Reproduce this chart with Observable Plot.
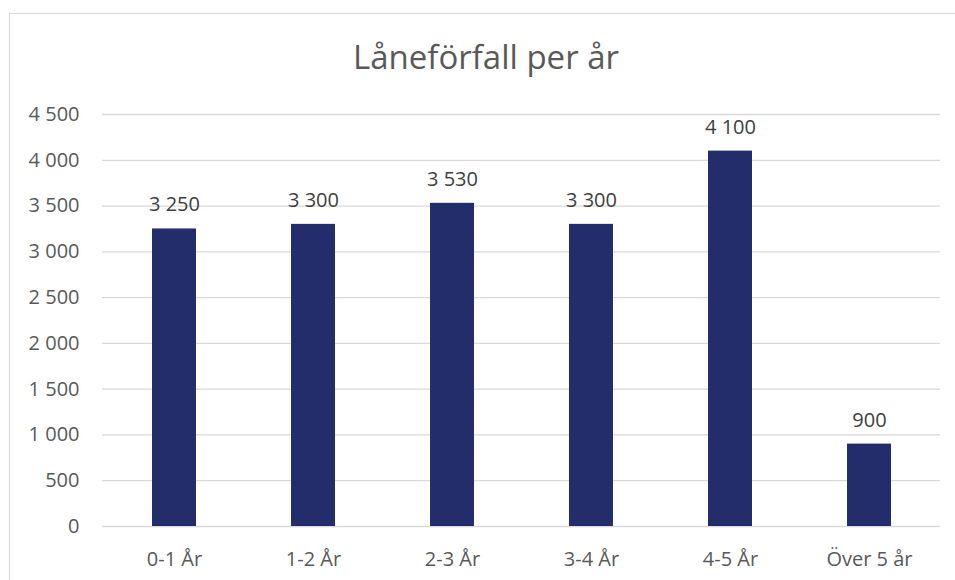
<!DOCTYPE html>
<html>
<head>
<meta charset="utf-8">
<script src="https://cdn.jsdelivr.net/npm/d3@7"></script>
<script src="https://cdn.jsdelivr.net/npm/@observablehq/plot@0.6"></script>
<style>
  html, body { margin: 0; padding: 0; background: #fff; width: 955px; height: 580px; overflow: hidden; }
  #frame { position: absolute; left: 9px; top: 13px; width: 1000px; height: 700px; border: 1.5px solid #d9d9d9; box-sizing: border-box; }
  #title { position: absolute; left: 0; width: 972px; top: 37px; text-align: center; font-family: "Open Sans", sans-serif; font-size: 33px; color: #595959; line-height: 40px; }
  #chart { position: absolute; left: 0; top: 90px; }
</style>
</head>
<body>
<div id="frame"></div>
<div id="title">Låneförfall per år</div>
<div id="chart"></div>
<script>
const categories = ["0-1 År", "1-2 År", "2-3 År", "3-4 År", "4-5 År", "Över 5 år"];
const values = [3250, 3300, 3530, 3300, 4100, 900];
const yTicks = [0, 500, 1000, 1500, 2000, 2500, 3000, 3500, 4000, 4500];

const data = categories.map((c, i) => ({category: c, value: values[i]}));
const locale = d3.formatLocale({decimal: ",", thousands: "\u00a0", grouping: [3], currency: ["", ""]});
const fmt = locale.format(",d");

const plot = Plot.plot({
  width: 955,
  height: 490,
  marginLeft: 102,
  marginRight: 15,
  marginTop: 24,
  marginBottom: 54,
  style: {fontFamily: "'Open Sans', sans-serif", fontSize: "20px", color: "#595959", background: "transparent"},
  x: {domain: categories, paddingInner: 0.685, paddingOuter: 0.3425, align: 0.5, label: null, tickSize: 0, tickPadding: 25},
  y: {domain: [0, 4500], ticks: yTicks, tickFormat: fmt, label: null, tickSize: 0, tickPadding: 23},
  marks: [
    Plot.ruleY(yTicks, {stroke: "#d9d9d9", strokeWidth: 1.3}),
    Plot.barY(data, {x: "category", y: "value", fill: "#242D6B"}),
    Plot.text(data, {x: "category", y: "value", text: d => fmt(d.value), dy: -24, fill: "#404040", fontSize: 20})
  ]
});
document.getElementById("chart").appendChild(plot);
</script>
</body>
</html>
